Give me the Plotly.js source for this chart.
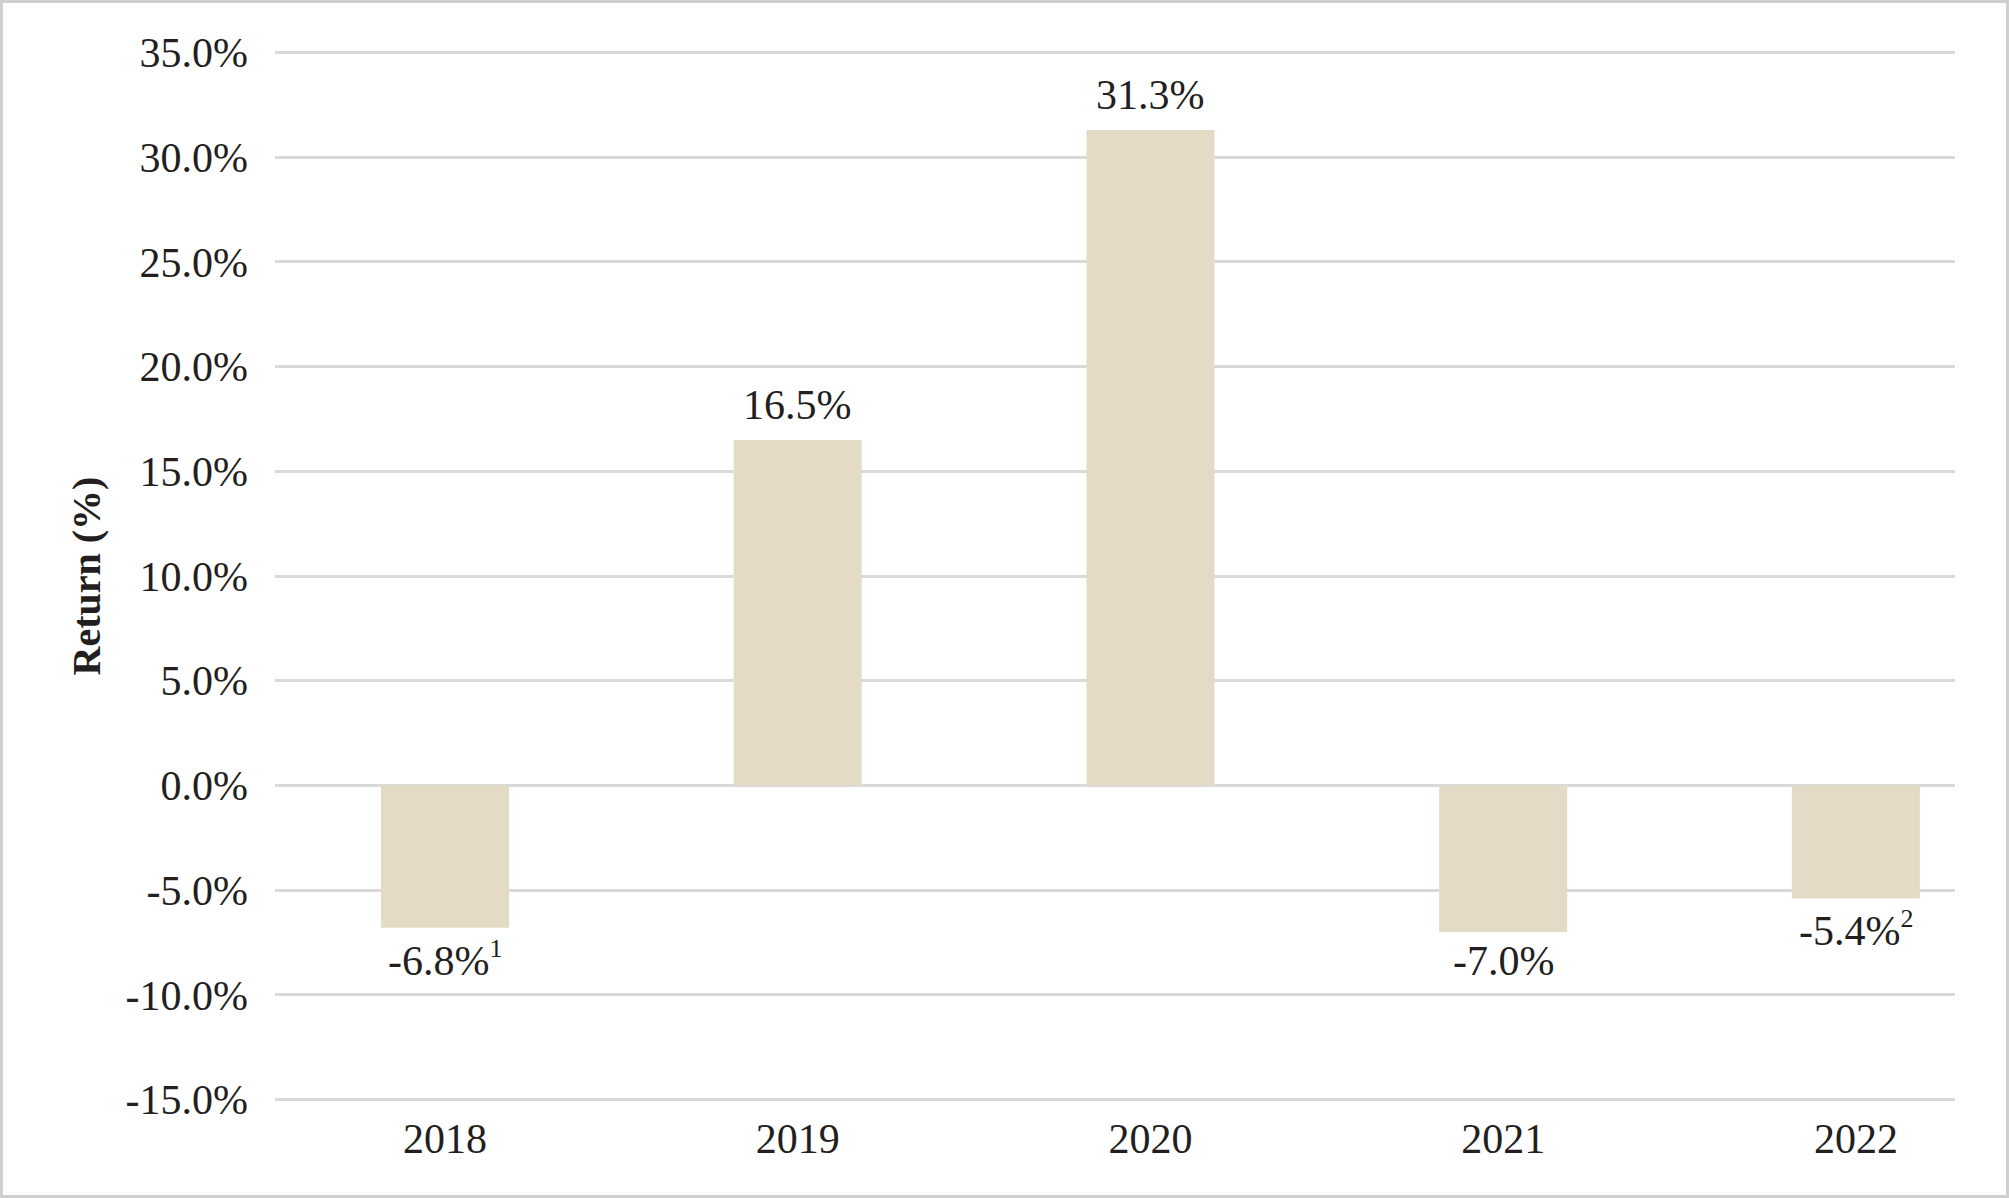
<!DOCTYPE html>
<html>
<head>
<meta charset="utf-8">
<script src="https://cdn.plot.ly/plotly-3.0.1.min.js"></script>
<style>
  html, body { margin: 0; padding: 0; background: #ffffff; }
  #wrap { position: relative; width: 2009px; height: 1198px; }
  #chart { position: absolute; left: 0; top: 0; width: 2009px; height: 1198px; }
  #frame { position: absolute; left: 0; top: 0; width: 2009px; height: 1198px;
           box-sizing: border-box; border: 3px solid #cfcfd1; pointer-events: none; z-index: 10; }
</style>
</head>
<body>
<div id="wrap"><div id="chart"></div><div id="frame"></div></div>
<script>
const years = ["2018", "2019", "2020", "2021", "2022"];
const returns = [-6.8, 16.5, 31.3, -7.0, -5.4];
const labelTexts = ["-6.8%<sup><span style=\"font-size:26px\">1</span></sup>", "16.5%", "31.3%", "-7.0%", "-5.4%<sup><span style=\"font-size:26px\">2</span></sup>"];
const yTickVals = [-15, -10, -5, 0, 5, 10, 15, 20, 25, 30, 35];
const yTickText = ["-15.0%", "-10.0%", "-5.0%", "0.0%", "5.0%", "10.0%", "15.0%", "20.0%", "25.0%", "30.0%", "35.0%"];

const serif = "Liberation Serif, Times New Roman, serif";
const ink = "#231f20";

const trace = {
  type: "bar",
  x: years,
  y: returns,
  width: 0.363,
  marker: { color: "#e4dbc7", line: { width: 0 } },
  hoverinfo: "skip",
  showlegend: false
};

// category axis: annotations placed by category index
const annotations = years.map((yr, i) => ({
  x: i,
  y: returns[i],
  xref: "x",
  yref: "y",
  text: labelTexts[i],
  showarrow: false,
  xanchor: "center",
  yanchor: returns[i] >= 0 ? "bottom" : "top",
  yshift: returns[i] >= 0 ? 10 : -4,
  font: { family: serif, size: 42, color: ink }
}));

const layout = {
  width: 2009,
  height: 1198,
  margin: { l: 275, r: 54, t: 42, b: 88, pad: 0 },
  paper_bgcolor: "#ffffff",
  plot_bgcolor: "#ffffff",
  font: { family: serif, color: ink },
  bargap: 0.5,
  xaxis: {
    type: "category",
    range: [-0.482, 4.281],
    showgrid: false,
    zeroline: false,
    showline: false,
    ticks: "",
    tickfont: { family: serif, size: 42, color: ink },
    ticklabelstandoff: 0,
    fixedrange: true
  },
  yaxis: {
    range: [-15.5, 35.5],
    tickvals: yTickVals,
    ticktext: yTickText,
    showgrid: true,
    gridcolor: "#d9d9d9",
    gridwidth: 3,
    zeroline: false,
    showline: false,
    ticks: "",
    tickfont: { family: serif, size: 42, color: ink },
    ticklabelstandoff: 26,
    title: { text: "<b>Return (%)</b>", font: { family: serif, size: 40, color: ink }, standoff: 12 },
    fixedrange: true
  },
  annotations: annotations
};

Plotly.newPlot("chart", [trace], layout, { displayModeBar: false, staticPlot: true });
</script>
</body>
</html>
